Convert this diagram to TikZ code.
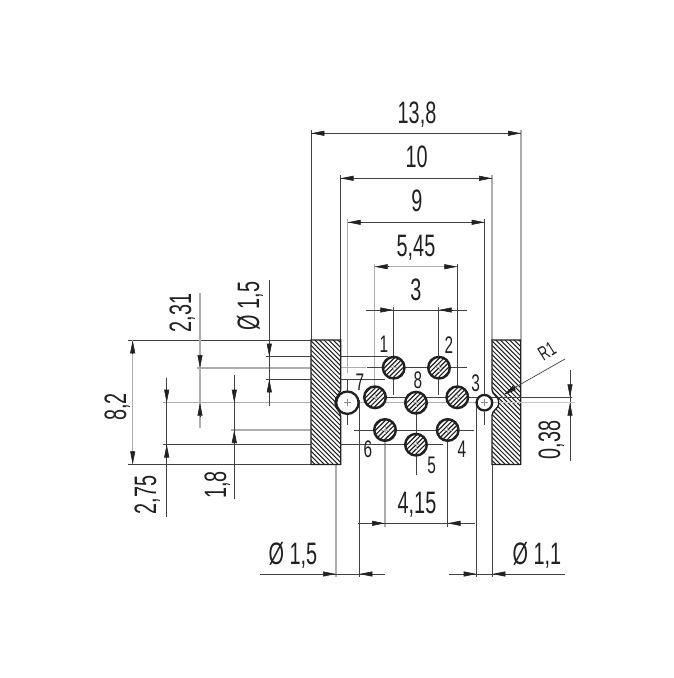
\documentclass[tikz,border=0pt]{standalone}
\usepackage{fontspec}
\setmainfont[FakeStretch=0.64]{Liberation Sans}
\usetikzlibrary{arrows.meta}
\definecolor{ink}{gray}{0.13}
\tikzset{
  dk/.style={draw=ink!85,line width=0.7pt},
  gr/.style={draw=black!32,line width=1.3pt},
  arr/.style={-{Stealth[length=13pt,width=5pt,inset=0pt]},draw=ink,line width=0.6pt},
  outline/.style={draw=ink,line width=1.4pt},
  ring/.style={draw=ink,line width=2.3pt,fill=white},
  hatchline/.style={draw=ink,line width=1pt},
  lab/.style={font=\fontsize{31}{31}\selectfont,text=ink,inner sep=0pt,text height=22pt,text depth=0pt},
  pinlab/.style={font=\fontsize{24}{24}\selectfont,text=ink,inner sep=0pt,text height=17pt,text depth=0pt},
}
\newcommand{\hpin}[2]{%
  \fill[white] (#1,#2) circle (11.3);
  \begin{scope}
    \clip (#1,#2) circle (11.3);
    \foreach \k in {-5,...,5}
      \draw[draw=ink,line width=1.15pt] ({#1+4.6*\k-16},{#2+16}) -- ({#1+4.6*\k+16},{#2-16});
  \end{scope}
  \draw[draw=black!30,line width=0.6pt] ({#1-4},#2) -- ({#1+4},#2) ({#1},{#2-4}) -- ({#1},{#2+4});
  \draw[draw=ink,line width=2.4pt] (#1,#2) circle (10.8);
}
\begin{document}
\begin{tikzpicture}[x=1pt,y=-1pt]
\useasboundingbox (0,0) rectangle (673,678);
\fill[white] (0,0) rectangle (673,678);

% --- vertical extension lines
\draw[dk] (311.3,130) -- (311.3,340);
\draw[gr] (521,130) -- (521,340);
\draw[dk] (340.5,175) -- (340.5,340);
\draw[gr] (492,175) -- (492,340);
\draw[gr] (347.7,219) -- (347.7,373);
\draw[dk] (484.7,219) -- (484.7,382);
\draw[gr] (374.7,264) -- (374.7,386);
\draw[dk] (457.3,264) -- (457.3,386);
\draw[dk] (393.3,307) -- (393.3,395);
\draw[dk] (438.7,307) -- (438.7,395);
\draw[gr] (336,405) -- (336,577);
\draw[dk] (359.3,400) -- (359.3,577);
\draw[gr] (385,430) -- (385,527);
\draw[dk] (447.5,430) -- (447.5,527);
\draw[dk] (416,392) -- (416,475);
\draw[dk] (476.7,405) -- (476.7,577);
\draw[dk] (492.3,465) -- (492.3,577);

% --- horizontal extension lines
\draw[dk] (128,340.3) -- (311,340.3);
\draw[dk] (128,464.3) -- (311,464.3);
\draw[gr] (197,368) -- (311,368);
\draw[gr] (340,367.7) -- (366,367.7);
\draw[gr] (163,402.7) -- (575,402.7);
\draw[dk] (265.7,356.7) -- (388,356.7);
\draw[dk] (265.7,379.3) -- (385,379.3);
\draw[dk] (163,444.5) -- (443,444.5);
\draw[gr] (231,430) -- (311,430);
\draw[dk] (354,430) -- (474,430);
\draw[dk] (366.7,367.7) -- (466.7,367.7);
\draw[dk] (375,397.3) -- (572,397.3);

% --- top dimensions
\draw[dk] (311.3,133.3) -- (521,133.3);
\draw[arr] (325,133.3) -- (311.3,133.3);
\draw[arr] (507.5,133.3) -- (521,133.3);
\draw[dk] (340.5,178.3) -- (492,178.3);
\draw[arr] (354,178.3) -- (340.5,178.3);
\draw[arr] (478.5,178.3) -- (492,178.3);
\draw[dk] (347.7,222.3) -- (484.7,222.3);
\draw[arr] (361,222.3) -- (347.7,222.3);
\draw[arr] (471,222.3) -- (484.7,222.3);
\draw[gr] (374.7,266.7) -- (457.3,266.7);
\draw[arr] (388,266.7) -- (374.7,266.7);
\draw[arr] (444,266.7) -- (457.3,266.7);
\draw[dk] (366,310) -- (466.7,310);
\draw[arr] (380.5,310) -- (393.3,310);
\draw[arr] (452,310) -- (438.7,310);

% --- left dimensions
\draw[gr] (132.7,340.3) -- (132.7,464.3);
\draw[arr] (132.7,354) -- (132.7,340.3);
\draw[arr] (132.7,451) -- (132.7,464.3);
\draw[gr] (200,293) -- (200,427.7);
\draw[arr] (200,354.5) -- (200,368);
\draw[arr] (200,416.5) -- (200,402.7);
\draw[dk] (269.3,280) -- (269.3,406);
\draw[arr] (269.3,343) -- (269.3,356.7);
\draw[arr] (269.3,393) -- (269.3,379.3);
\draw[dk] (166.7,377.7) -- (166.7,516.7);
\draw[arr] (166.7,389) -- (166.7,402.7);
\draw[arr] (166.7,458) -- (166.7,444.5);
\draw[dk] (234.3,375) -- (234.3,499.3);
\draw[arr] (234.3,389) -- (234.3,402.7);
\draw[arr] (234.3,443.5) -- (234.3,430);

% --- bottom dimensions
\draw[dk] (358,523.3) -- (475,523.3);
\draw[arr] (372,523.3) -- (385,523.3);
\draw[arr] (460.5,523.3) -- (447.5,523.3);
\draw[dk] (260,574) -- (385,574);
\draw[arr] (323,574) -- (336,574);
\draw[arr] (372.5,574) -- (359.3,574);
\draw[dk] (449,574) -- (565,574);
\draw[arr] (463,574) -- (476.7,574);
\draw[arr] (506,574) -- (492.3,574);

% --- right dimension 0,38
\draw[dk] (570,370) -- (570,461);
\draw[arr] (570,384) -- (570,397.3);
\draw[arr] (570,416.5) -- (570,402.7);

% --- blocks
\begin{scope}
  \clip (311,340) -- (340.7,340) -- (340.7,389.5) .. controls (340.7,394) and (335,396) .. (335,402.7) .. controls (335,409.5) and (340.7,411) .. (340.7,416) -- (340.7,464.5) -- (311,464.5) -- cycle;
  \fill[white] (305,335) rectangle (345,470);
  \foreach \k in {0,...,35}
    \draw[hatchline] ({311+4.6*\k-130},335) -- ({311+4.6*\k+10},475);
\end{scope}
\draw[outline] (311,340) -- (340.7,340) -- (340.7,389.5) .. controls (340.7,394) and (335,396) .. (335,402.7) .. controls (335,409.5) and (340.7,411) .. (340.7,416) -- (340.7,464.5) -- (311,464.5) -- cycle;
\begin{scope}
  \clip (492,340) -- (520.7,340) -- (520.7,464.5) -- (492,464.5) -- (492,415.5) .. controls (492,410) and (499,409) .. (499,402.7) .. controls (499,396) and (492,395) .. (492,389.5) -- cycle;
  \fill[white] (488,335) rectangle (525,470);
  \foreach \k in {0,...,35}
    \draw[hatchline] ({492+4.6*\k-130},335) -- ({492+4.6*\k+10},475);
\end{scope}
\draw[outline] (492,340) -- (520.7,340) -- (520.7,464.5) -- (492,464.5) -- (492,415.5) .. controls (492,410) and (499,409) .. (499,402.7) .. controls (499,396) and (492,395) .. (492,389.5) -- cycle;
\draw[gr,draw=black!22] (336,402.7) -- (340,402.7);
\draw[gr,draw=black!22] (499,402.7) -- (575,402.7);
\draw[draw=ink!85,line width=0.6pt] (499,397.3) -- (572,397.3);

% --- R1 leader
\draw[dk] (565,359) -- (514,388);
\draw[-{Stealth[length=13pt,width=5pt,inset=0pt]},draw=ink,line width=0.6pt] (515,387.5) -- (503.5,395);

% --- pins
\hpin{393.7}{367.7}
\hpin{439}{367.7}
\hpin{375}{397.3}
\hpin{416}{402.7}
\hpin{457.3}{397.3}
\hpin{385}{430}
\hpin{447.7}{430}
\hpin{416}{444.7}

% --- open holes
\draw[ring] (347.4,402.7) circle (11.2);
\draw[ring] (484.4,402.7) circle (7.8);
\draw[draw=black!45,line width=0.6pt] (344,402.7) -- (351,402.7) (347.4,399) -- (347.4,406);
\draw[draw=black!45,line width=0.6pt] (481,402.7) -- (488,402.7) (484.4,399) -- (484.4,406);
\draw[dk] (347.5,380) -- (347.5,390.5) (347.5,415) -- (347.5,425);
\draw[dk] (484.4,380) -- (484.4,394) (484.4,411.5) -- (484.4,425);

% --- labels
\node[lab] (t138) at (417,112.2) {13,8};
\node[lab] (t10) at (416.7,156.7) {10};
\node[lab] (t9) at (417,200) {9};
\node[lab] (t545) at (416,245) {5,45};
\node[lab] (t3) at (416,289) {3};
\node[lab] (t415) at (417,502.7) {4,15};
\node[lab] (tdl) at (293,553) {Ø 1,5};
\node[lab] (tdr) at (537,553) {Ø 1,1};
\node[lab,rotate=90] (t82) at (115,407) {8,2};
\node[lab,rotate=90] (t231) at (180,313) {2,31};
\node[lab,rotate=90] (td15) at (248,306) {Ø 1,5};
\node[lab,rotate=90] (t275) at (145,495) {2,75};
\node[lab,rotate=90] (t18) at (215,485) {1,8};
\node[lab,rotate=90] (t038) at (549,440) {0,38};
\node[pinlab] (p1) at (384,344.3) {1};
\node[pinlab] (p2) at (449,344.5) {2};
\node[pinlab] (p7) at (360,382) {7};
\node[pinlab] (p8) at (418,380) {8};
\node[pinlab] (p3) at (475.7,382.7) {3};
\node[pinlab] (p6) at (368,449) {6};
\node[pinlab] (p4) at (462,449) {4};
\node[pinlab] (p5) at (431.7,465) {5};
\node[font=\fontsize{20}{20}\selectfont,text=ink,inner sep=0pt,rotate=32] (r1) at (547,351) {R1};
\end{tikzpicture}
\end{document}
